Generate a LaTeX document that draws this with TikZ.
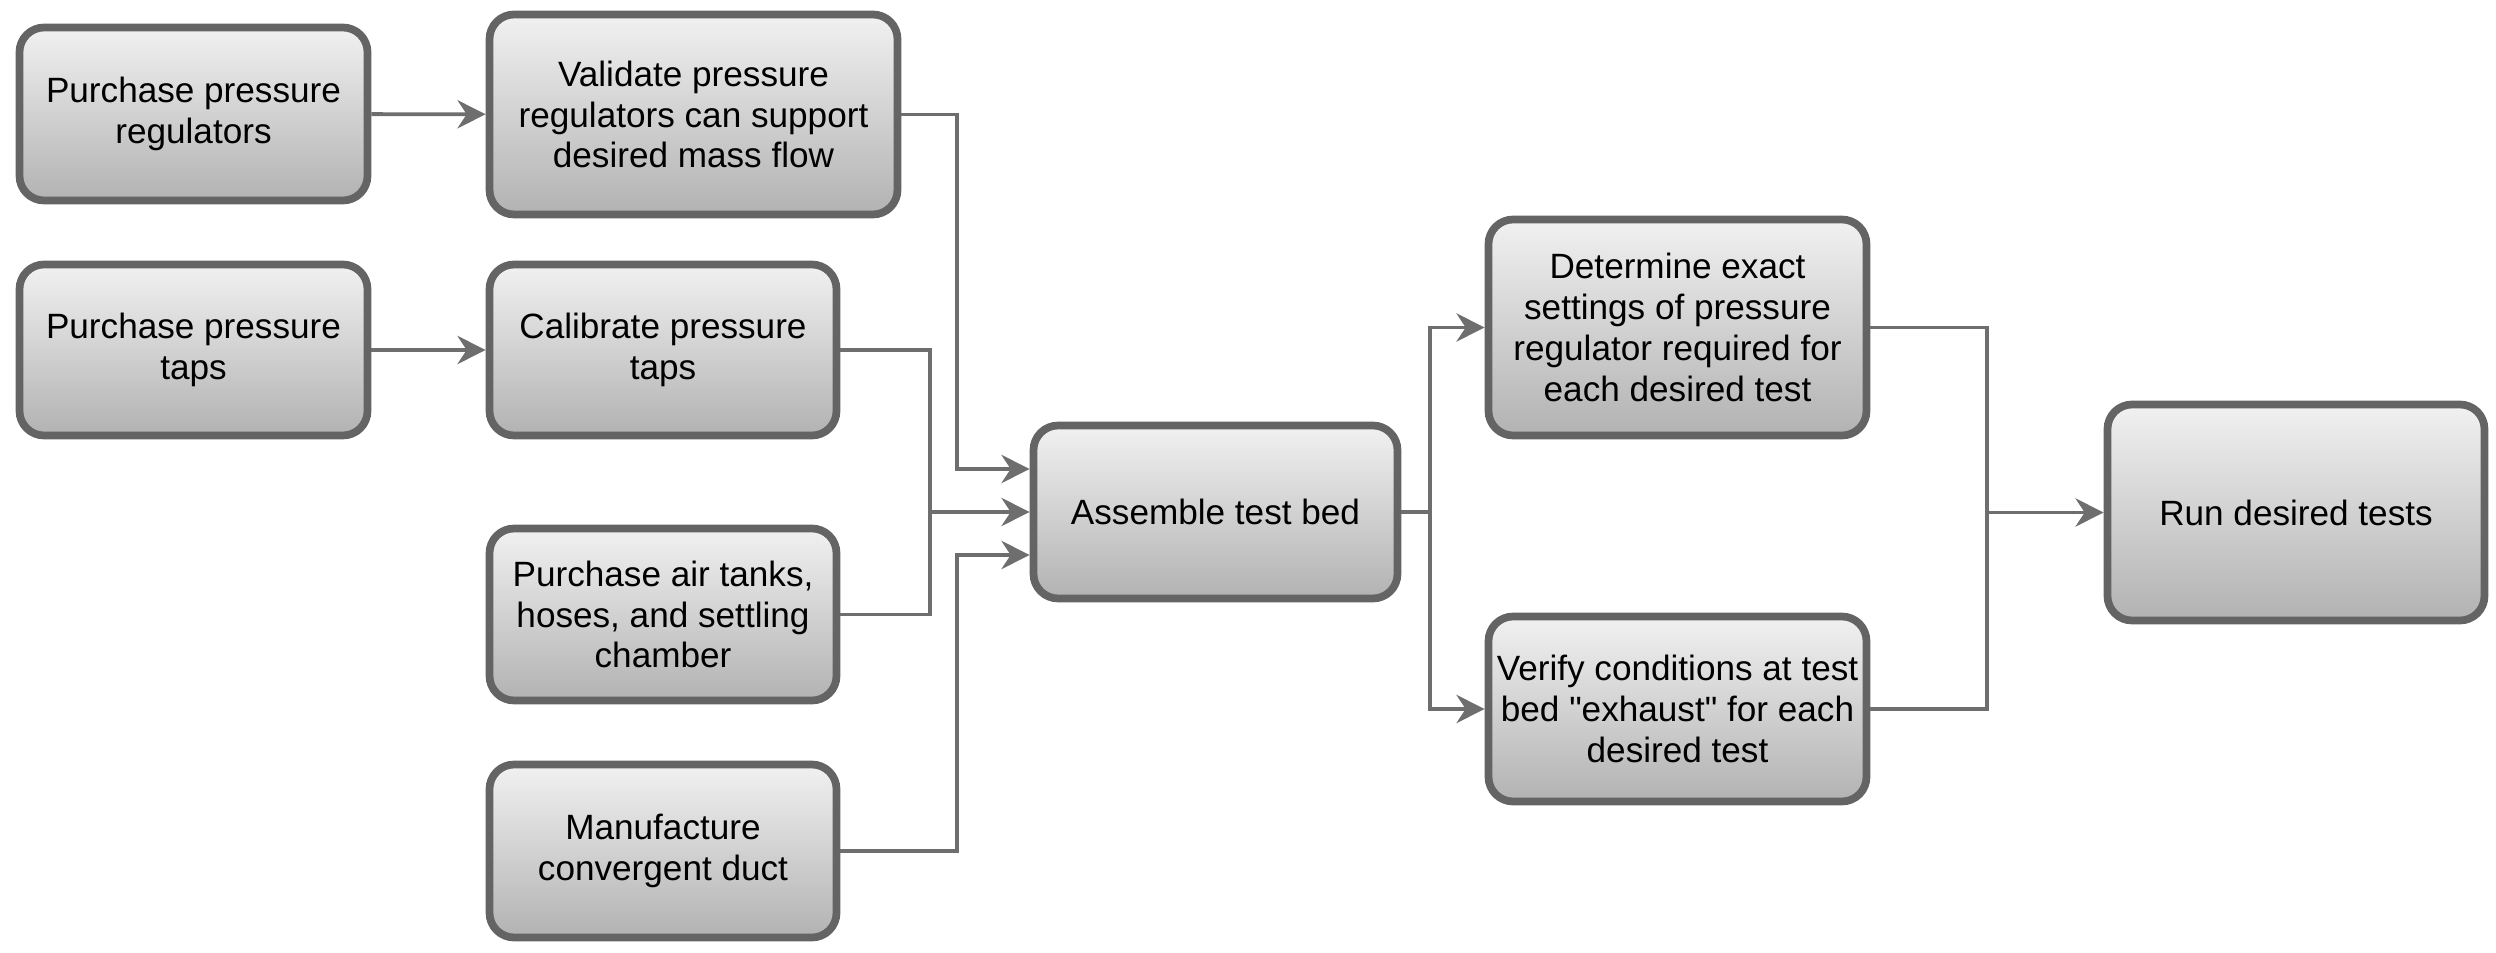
\documentclass[tikz,border=0pt]{standalone}
\usepackage{fontspec}
\setmainfont{Liberation Sans}
\usepackage{tikz}
\usetikzlibrary{arrows.meta}
\definecolor{kenarGri}{HTML}{646464}
\definecolor{cizgiGri}{HTML}{6E6E6E}
\definecolor{ustGri}{HTML}{F1F1F1}
\definecolor{altGri}{HTML}{B2B2B2}

\begin{document}
\begin{tikzpicture}[scale=1.0,
  isKutusu/.style={draw=kenarGri, line width=2.2pt, rounded corners=7pt,
    top color=ustGri, bottom color=altGri, align=center, inner sep=2pt,
    font=\fontsize{10}{11.6}\selectfont},
  akis/.style={draw=cizgiGri, line width=1.1pt, -{Stealth[length=8pt,width=8pt,inset=2.6pt]}},
  bag/.style={draw=cizgiGri, line width=1.1pt}]
\useasboundingbox (0,0) rectangle (24.96,9.52);
% birinci kolon: satin alma
\node[isKutusu, minimum width=3.48cm, minimum height=1.73cm] (regAl) at (1.935,8.38) {Purchase pressure\\regulators};
\node[isKutusu, minimum width=3.48cm, minimum height=1.71cm] (tapAl) at (1.935,6.02) {Purchase pressure\\taps};
% ikinci kolon
\node[isKutusu, minimum width=4.08cm, minimum height=2.00cm] (regDogrula) at (6.935,8.375) {Validate pressure\\regulators can support\\desired mass flow};
\node[isKutusu, minimum width=3.47cm, minimum height=1.71cm] (tapKalib) at (6.63,6.02) {Calibrate pressure\\taps};
\node[isKutusu, minimum width=3.47cm, minimum height=1.72cm] (tankAl) at (6.63,3.375) {Purchase air tanks,\\hoses, and settling\\chamber};
\node[isKutusu, minimum width=3.47cm, minimum height=1.73cm] (kanal) at (6.63,1.01) {Manufacture\\convergent duct};
% montaj ve testler
\node[isKutusu, minimum width=3.64cm, minimum height=1.73cm] (montaj) at (12.155,4.40) {Assemble test bed};
\node[isKutusu, minimum width=3.78cm, minimum height=2.16cm] (ayar) at (16.775,6.245) {Determine exact\\settings of pressure\\regulator required for\\each desired test};
\node[isKutusu, minimum width=3.78cm, minimum height=1.85cm] (egzoz) at (16.775,2.43) {Verify conditions at test\\bed \textquotedbl exhaust\textquotedbl{} for each\\desired test};
\node[isKutusu, minimum width=3.77cm, minimum height=2.16cm] (testler) at (22.96,4.395) {Run desired tests};

% baglantilar
\draw[akis] (regAl) -- (regDogrula);
\draw[akis] (tapAl) -- (tapKalib);
\draw[akis] (regDogrula.east) -- ++(0.56,0) |- ([yshift=0.43cm]montaj.west);
\coordinate (birlesme) at (9.30,4.40);
\draw[bag] (tapKalib.east) -| (birlesme) |- (tankAl.east);
\draw[akis] (birlesme) -- (montaj.west);
\draw[akis] (kanal.east) -- ++(1.17,0) |- ([yshift=-0.43cm]montaj.west);
\draw[bag] (montaj.east) -- ++(0.29,0) coordinate (ayrilma);
\draw[akis] (ayrilma) |- (ayar.west);
\draw[akis] (ayrilma) |- (egzoz.west);
\coordinate (toplama) at (19.87,4.395);
\draw[bag] (ayar.east) -| (toplama) |- (egzoz.east);
\draw[akis] (toplama) -- (testler.west);
\end{tikzpicture}
\end{document}
